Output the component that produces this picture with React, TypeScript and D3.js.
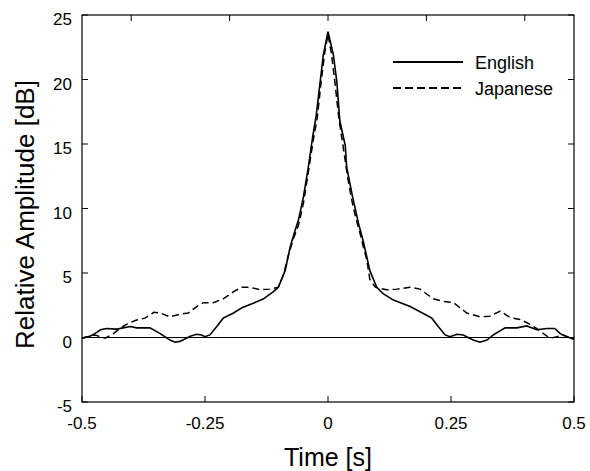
import React, { useEffect, useRef } from 'react';
import * as d3 from 'd3';

// time in s, amplitude in dB
const englishT = [-0.5, -0.484, -0.474, -0.462, -0.45, -0.429, -0.402, -0.389, -0.362, -0.341, -0.321, -0.311, -0.301, -0.28, -0.267, -0.257, -0.25, -0.24, -0.226, -0.213, -0.192, -0.175, -0.152, -0.131, -0.111, -0.101, -0.087, -0.077, -0.067, -0.06, -0.05, -0.04, -0.031, -0.024, -0.016, -0.0095, 0, 0.011, 0.018, 0.024, 0.035, 0.038, 0.05, 0.062, 0.072, 0.085, 0.099, 0.112, 0.133, 0.167, 0.187, 0.211, 0.224, 0.238, 0.248, 0.262, 0.275, 0.295, 0.309, 0.323, 0.336, 0.36, 0.384, 0.404, 0.424, 0.445, 0.461, 0.472, 0.485, 0.5];
const englishV = [-0.05, 0.1, 0.3, 0.6, 0.7, 0.65, 0.85, 0.75, 0.75, 0.3, -0.2, -0.37, -0.3, 0.1, 0.25, 0.2, 0.06, 0.2, 0.85, 1.5, 1.9, 2.3, 2.65, 3.0, 3.55, 3.9, 5.2, 7.0, 8.3, 9.1, 10.9, 13.2, 15.6, 17.2, 19.8, 21.9, 23.7, 21.9, 19.8, 16.8, 14.9, 13.2, 10.9, 8.85, 7.4, 5.2, 3.9, 3.4, 2.9, 2.4, 2.0, 1.5, 0.85, 0.2, 0.06, 0.25, 0.2, -0.2, -0.37, -0.2, 0.2, 0.75, 0.75, 0.9, 0.6, 0.7, 0.7, 0.3, 0.06, -0.14];

const japaneseT = [-0.5, -0.484, -0.474, -0.453, -0.436, -0.423, -0.406, -0.389, -0.372, -0.354, -0.341, -0.321, -0.301, -0.284, -0.267, -0.253, -0.233, -0.213, -0.192, -0.175, -0.159, -0.138, -0.118, -0.101, -0.091, -0.081, -0.071, -0.06, -0.05, -0.04, -0.03, -0.022, -0.014, -0.007, 0, 0.007, 0.014, 0.022, 0.03, 0.04, 0.048, 0.057, 0.065, 0.072, 0.079, 0.085, 0.096, 0.119, 0.14, 0.167, 0.187, 0.214, 0.234, 0.255, 0.282, 0.309, 0.329, 0.35, 0.37, 0.39, 0.407, 0.424, 0.438, 0.451, 0.465, 0.478, 0.5];
const japaneseV = [-0.06, 0.1, 0.2, -0.06, 0.3, 0.7, 1.1, 1.35, 1.5, 1.95, 1.9, 1.6, 1.8, 1.9, 2.4, 2.7, 2.7, 3.0, 3.55, 3.9, 3.9, 3.7, 3.75, 3.9, 4.8, 6.3, 7.6, 8.7, 10.4, 12.8, 15.3, 17.0, 19.8, 22.0, 23.5, 22.0, 19.8, 17.0, 15.0, 12.4, 10.7, 9.2, 8.1, 7.0, 6.0, 4.5, 3.9, 3.7, 3.75, 3.9, 3.75, 3.0, 2.8, 2.7, 1.9, 1.6, 1.65, 2.05, 1.55, 1.4, 1.1, 0.7, 0.3, -0.06, 0.06, 0.2, -0.14];

const bottomTicks = [-0.5, -0.25, 0, 0.25, 0.5];
const bottomLabels = ['-0.5', '-0.25', '0', '0.25', '0.5'];
const topTicks = [-0.4, -0.2, 0, 0.2, 0.4];
const yTicks = [-5, 0, 5, 10, 15, 20, 25];

const seriesNames = ['English', 'Japanese'];
const seriesDash = [null, '7,4'];

const App = () => {
  const svgRef = useRef<SVGSVGElement>(null);

  useEffect(() => {
    const svg = d3.select(svgRef.current);
    svg.selectAll('*').remove();

    const left = 82, right = 574, top = 15, bottom = 402;
    const font = 'Liberation Sans, Arial, Helvetica, sans-serif';

    const x = d3.scaleLinear().domain([-0.5, 0.5]).range([left, right]);
    const y = d3.scaleLinear().domain([-5, 25]).range([bottom, top]);

    const g = svg.append('g');

    // zero line
    g.append('line')
      .attr('x1', left).attr('x2', right)
      .attr('y1', y(0)).attr('y2', y(0))
      .attr('stroke', '#000').attr('stroke-width', 1);

    const line = d3.line<[number, number]>()
      .x(d => x(d[0]))
      .y(d => y(d[1]));

    const eng = englishT.map((t, i) => [t, englishV[i]] as [number, number]);
    const jap = japaneseT.map((t, i) => [t, japaneseV[i]] as [number, number]);

    g.append('path')
      .datum(jap)
      .attr('d', line)
      .attr('fill', 'none')
      .attr('stroke', '#000')
      .attr('stroke-width', 1.5)
      .attr('stroke-dasharray', '7,4');

    g.append('path')
      .datum(eng)
      .attr('d', line)
      .attr('fill', 'none')
      .attr('stroke', '#000')
      .attr('stroke-width', 1.6);

    // frame
    g.append('rect')
      .attr('x', left).attr('y', top)
      .attr('width', right - left).attr('height', bottom - top)
      .attr('fill', 'none').attr('stroke', '#000').attr('stroke-width', 1.2);

    const tl = 6;
    // bottom ticks
    g.selectAll('.bt').data(bottomTicks).enter().append('line')
      .attr('x1', d => x(d)).attr('x2', d => x(d))
      .attr('y1', bottom).attr('y2', bottom - tl)
      .attr('stroke', '#000');
    // top ticks
    g.selectAll('.tt').data(topTicks).enter().append('line')
      .attr('x1', d => x(d)).attr('x2', d => x(d))
      .attr('y1', top).attr('y2', top + tl)
      .attr('stroke', '#000');
    // left / right ticks
    g.selectAll('.lt').data(yTicks).enter().append('line')
      .attr('x1', left).attr('x2', left + tl)
      .attr('y1', d => y(d)).attr('y2', d => y(d))
      .attr('stroke', '#000');
    g.selectAll('.rt').data(yTicks).enter().append('line')
      .attr('x1', right).attr('x2', right - tl)
      .attr('y1', d => y(d)).attr('y2', d => y(d))
      .attr('stroke', '#000');

    // tick labels
    g.selectAll('.bl').data(bottomTicks).enter().append('text')
      .attr('x', d => x(d)).attr('y', bottom + 27)
      .attr('text-anchor', 'middle')
      .attr('font-family', font).attr('font-size', 17)
      .text((d, i) => bottomLabels[i]);

    g.selectAll('.yl').data(yTicks).enter().append('text')
      .attr('x', left - 10).attr('y', d => y(d) + 10)
      .attr('text-anchor', 'end')
      .attr('font-family', font).attr('font-size', 17)
      .text(d => String(d));

    // axis titles
    g.append('text')
      .attr('x', x(0)).attr('y', 466)
      .attr('text-anchor', 'middle')
      .attr('font-family', font).attr('font-size', 25)
      .text('Time [s]');

    g.append('text')
      .attr('transform', `translate(34,${(top + bottom) / 2 + 6}) rotate(-90)`)
      .attr('text-anchor', 'middle')
      .attr('font-family', font).attr('font-size', 26)
      .text('Relative Amplitude [dB]');

    // legend
    const lg = g.append('g');
    seriesNames.forEach((name, i) => {
      const ly = 62 + i * 26;
      const ln = lg.append('line')
        .attr('x1', 393).attr('x2', 463)
        .attr('y1', ly).attr('y2', ly)
        .attr('stroke', '#000').attr('stroke-width', 2);
      if (seriesDash[i]) ln.attr('stroke-dasharray', '8,4');
      lg.append('text')
        .attr('x', 475).attr('y', ly + 7)
        .attr('font-family', font).attr('font-size', 18)
        .text(name);
    });
  }, []);

  return (
    <svg ref={svgRef} width={590} height={471}
      style={{ position: 'absolute', left: 0, top: 0, background: '#fff' }}></svg>
  );
};

export default App;
